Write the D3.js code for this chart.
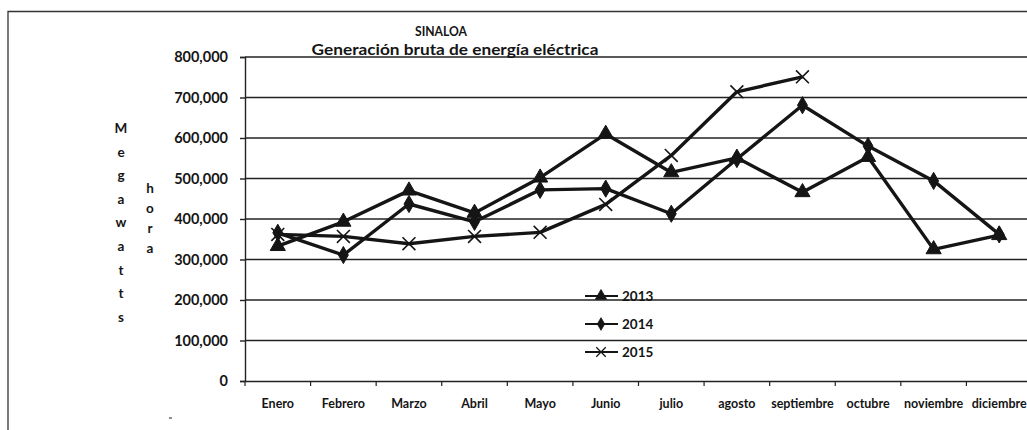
<!DOCTYPE html>
<html lang="es">
<head>
<meta charset="UTF-8">
<script src="https://d3js.org/d3.v7.min.js"></script>
<title>Sinaloa</title>
<style>
    body { margin: 0; background: #fff; }
    svg text { font-family: Lato, "Open Sans", sans-serif; fill: #151515; font-weight: bold; }
</style>
</head>
<body>
<div class="chart"></div>
<script>
    const months = ["Enero", "Febrero", "Marzo", "Abril", "Mayo", "Junio", "julio", "agosto",
        "septiembre", "octubre", "noviembre", "diciembre"];
    const years = ["2013", "2014", "2015"];
    const gen2013 = [333000, 393000, 470000, 415000, 502000, 610000, 515000, 551000, 466000, 553000, 325000, 360000];
    const gen2014 = [366000, 311000, 437000, 393000, 472000, 475000, 413000, 548000, 681000, 580000, 494000, 362000];
    const gen2015 = [362000, 357000, 339000, 357000, 367000, 436000, 557000, 714000, 751000];
    const yTicks = [0, 100000, 200000, 300000, 400000, 500000, 600000, 700000, 800000];

    const width = 1027, height = 430;
    const svg = d3.select(".chart").append("svg")
        .attr("width", width)
        .attr("height", height);

    // frame (cut off at right and bottom like the scan)
    svg.append("path")
        .attr("d", "M8,430 V11.5 H1027")
        .attr("fill", "none")
        .attr("stroke", "#333")
        .attr("stroke-width", 1.3);

    const x = d3.scaleBand().domain(months).range([245, 1032]);
    const y = d3.scaleLinear().domain([0, 800000]).range([381, 57]);

    // gridlines
    svg.append("g").selectAll("line")
        .data(yTicks.slice(1))
        .join("line")
        .attr("x1", 245).attr("x2", 1032)
        .attr("y1", d => y(d)).attr("y2", d => y(d))
        .attr("stroke", "#222").attr("stroke-width", 1.4);

    const yAxis = svg.append("g")
        .attr("transform", "translate(245,0)")
        .call(d3.axisLeft(y).tickValues(yTicks).tickFormat(d3.format(",")).tickSize(5).tickPadding(12));
    yAxis.selectAll("text").style("font-size", "14.5px");
    yAxis.selectAll("line, path").attr("stroke", "#222").attr("stroke-width", 1.4);

    const xAxis = svg.append("g")
        .attr("transform", "translate(0,381)")
        .call(d3.axisBottom(x).tickSize(0).tickPadding(18));
    xAxis.selectAll("text").style("font-size", "12.5px");
    xAxis.select(".domain").attr("stroke", "#222").attr("stroke-width", 1.6);
    // category boundary ticks
    svg.append("g").selectAll("line")
        .data(months)
        .join("line")
        .attr("x1", d => x(d)).attr("x2", d => x(d))
        .attr("y1", 381).attr("y2", 386)
        .attr("stroke", "#222").attr("stroke-width", 1.2);

    // titles
    svg.append("text")
        .attr("transform", "translate(441,35.5) scale(0.9,1)")
        .attr("text-anchor", "middle")
        .style("font-size", "13.5px").text("SINALOA");
    svg.append("text")
        .attr("transform", "translate(455,54.5) scale(1.15,1)")
        .attr("text-anchor", "middle")
        .style("font-size", "15px").text("Generación bruta de energía eléctrica");

    // vertical axis title
    svg.append("g").selectAll("text")
        .data("Megawatts".split(""))
        .join("text")
        .attr("x", 121).attr("y", (d, i) => 133 + i * 23.6)
        .attr("text-anchor", "middle").style("font-size", "13.5px").text(d => d);
    svg.append("g").selectAll("text")
        .data("hora".split(""))
        .join("text")
        .attr("x", 150).attr("y", (d, i) => 193 + i * 20)
        .attr("text-anchor", "middle").style("font-size", "13.5px").text(d => d);

    const cx = d => x(d) + x.bandwidth() / 2;
    const symbols = [d3.symbolTriangle, d3.symbolDiamond, d3.symbolX];
    const sizes = [100, 85, 110];
    const seriesData = [gen2013, gen2014, gen2015];

    const line = d3.line().x((d, i) => cx(months[i])).y(d => y(d));

    seriesData.forEach((vals, s) => {
        const g = svg.append("g");
        g.append("path")
            .attr("d", line(vals))
            .attr("fill", "none")
            .attr("stroke", "#151515")
            .attr("stroke-width", 3.4)
            .attr("stroke-linejoin", "round");
        g.selectAll("path.m")
            .data(vals)
            .join("path")
            .attr("class", "m")
            .attr("transform", (d, i) => `translate(${cx(months[i])},${y(d)})`)
            .attr("d", d3.symbol().type(symbols[s]).size(sizes[s]))
            .attr("fill", s === 2 ? "none" : "#151515")
            .attr("stroke", "#151515")
            .attr("stroke-width", s === 2 ? 1.6 : 1);
    });

    // legend
    const legend = svg.append("g");
    years.forEach((yr, s) => {
        const ly = 296 + s * 28;
        legend.append("line").attr("x1", 585).attr("x2", 618).attr("y1", ly).attr("y2", ly)
            .attr("stroke", "#151515").attr("stroke-width", 2.2);
        legend.append("path")
            .attr("transform", `translate(601,${ly})`)
            .attr("d", d3.symbol().type(symbols[s]).size(sizes[s] * 0.55))
            .attr("fill", s === 2 ? "none" : "#151515")
            .attr("stroke", "#151515").attr("stroke-width", s === 2 ? 1.3 : 0.8);
        legend.append("text").attr("x", 622).attr("y", ly + 5)
            .style("font-size", "13.5px").text(yr);
    });

    // small scan speck
    svg.append("line").attr("x1", 169).attr("x2", 172).attr("y1", 418).attr("y2", 418)
        .attr("stroke", "#444").attr("stroke-width", 1.2);
</script>
</body>
</html>
